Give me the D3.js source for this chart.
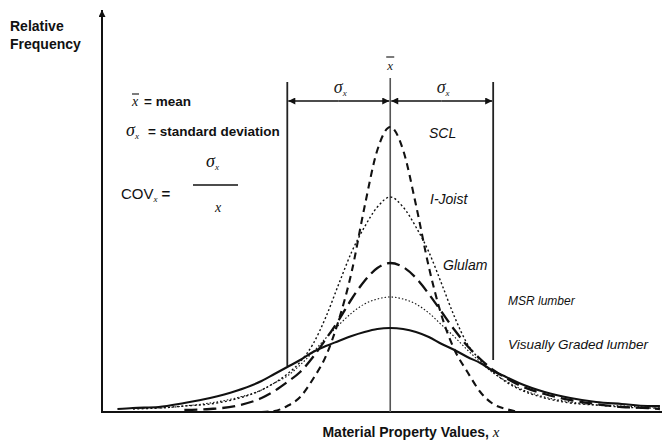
<!DOCTYPE html>
<html><head><meta charset="utf-8">
<script src="https://cdn.jsdelivr.net/npm/d3@7"></script>
<style>html,body{margin:0;padding:0;background:#fff}svg{display:block}</style>
</head><body>
<svg id="c" width="667" height="441"></svg>
<script>
// x in units of standard deviation from the mean; y = relative frequency (arbitrary units)
const xGrid = [-2.65,-2.5,-2.25,-2,-1.75,-1.5,-1.25,-1.125,-1,-0.875,-0.75,-0.625,-0.5,-0.375,-0.25,-0.125,0,0.125,0.25,0.375,0.5,0.625,0.75,0.875,1,1.125,1.25,1.5,1.75,2,2.25,2.5,2.62];
const sclValues     = [null,null,null,null,null,null,0,1,6,15,33,56,92,140,205,262,285,262,207,145,96,62,40,20,8,3,0,null,null,null,null,null,null];
const iJoistValues  = [null,3,4,6,8,13,22,29,38,50,68,95,128,160,185,205,215,205,185,160,128,95,68,52,40,30,23,14,9,7,5,4,4];
const glulamValues  = [null,null,null,2,3,6,14,21,30,40,55,73,92,113,131,144,149,145,134,118,100,82,66,53,42,34,27,18,12,8,5,4,3];
const msrValues     = [null,4,4,6,9,14,22,29,36,47,60,74,87,99,108,113,115,113,108,99,87,75,62,50,39,31,24,15,10,7,6,5,5];
const visualValues  = [3,4,5,9,14,21,31,38,45,52,60,66,71,76,80,83,84,83,80,75,68,62,55,49,41,35,29,20,14,10,8,6,6];
const seriesNames = ["SCL","I-Joist","Glulam","MSR lumber","Visually Graded lumber"];

const svg = d3.select("#c");
const x = d3.scaleLinear().domain([-2.8, 2.64]).range([102, 662]);
const y = d3.scaleLinear().domain([0, 400]).range([412, 12]);

const defs = svg.append("defs");
defs.append("marker").attr("id","ah").attr("viewBox","0 0 10 10").attr("refX",10).attr("refY",5)
  .attr("markerWidth",9).attr("markerHeight",7).attr("markerUnits","userSpaceOnUse").attr("orient","auto")
  .append("path").attr("d","M0,0L10,5L0,10z").attr("fill","#111");
defs.append("marker").attr("id","ahY").attr("viewBox","0 0 10 10").attr("refX",10).attr("refY",5)
  .attr("markerWidth",12).attr("markerHeight",7).attr("markerUnits","userSpaceOnUse").attr("orient","auto")
  .append("path").attr("d","M0,0L10,5L0,10z").attr("fill","#111");

// axes
svg.append("line").attr("x1",x(-2.8)).attr("x2",x(-2.8)).attr("y1",y(0)+1).attr("y2",10)
  .attr("stroke","#111").attr("stroke-width",2).attr("marker-end","url(#ahY)");
svg.append("line").attr("x1",x(-2.8)-1).attr("x2",x(2.64)).attr("y1",y(0)).attr("y2",y(0))
  .attr("stroke","#111").attr("stroke-width",2);

// mean and sigma lines
svg.append("line").attr("x1",x(0)).attr("x2",x(0)).attr("y1",78).attr("y2",y(0))
  .attr("stroke","#555").attr("stroke-width",1.6);
svg.append("line").attr("x1",x(-1)).attr("x2",x(-1)).attr("y1",82).attr("y2",366)
  .attr("stroke","#222").attr("stroke-width",1.8);
svg.append("line").attr("x1",x(1)).attr("x2",x(1)).attr("y1",82).attr("y2",360)
  .attr("stroke","#222").attr("stroke-width",1.8);

// sigma arrows
const ay = 101;
[[-0.5,-1,1],[-0.5,0,-1],[0.5,0,1],[0.5,1,-1]].forEach(([a,b,off])=>{
  svg.append("line").attr("x1",x(a)).attr("x2",x(b)+off).attr("y1",ay).attr("y2",ay)
    .attr("stroke","#111").attr("stroke-width",1.3).attr("marker-end","url(#ah)");
});

// curves
const styles = [
  {dash:"7,5", w:2.1},
  {dash:"2,2.4", w:1.4},
  {dash:"13,6", w:2.3},
  {dash:"1.5,2", w:1.1},
  {dash:null, w:2.1}
];
const allVals = [sclValues, iJoistValues, glulamValues, msrValues, visualValues];
const line = d3.line().defined(d=>d[1]!==null).x(d=>x(d[0])).y(d=>y(d[1])).curve(d3.curveMonotoneX);
allVals.forEach((vals,i)=>{
  const pts = xGrid.map((xv,j)=>[xv, vals[j]]);
  svg.append("path").attr("d", line(pts)).attr("fill","none").attr("stroke","#111")
    .attr("stroke-width",styles[i].w).attr("stroke-dasharray",styles[i].dash)
    .attr("stroke-linejoin","round");
});

// labels
const sans = "'Liberation Sans', Arial, sans-serif";
const serif = "'Liberation Serif', 'Times New Roman', serif";
svg.append("text").attr("x",10).attr("y",31).attr("font-family",sans).attr("font-weight","bold").attr("font-size",14).attr("fill","#111").text("Relative");
svg.append("text").attr("x",10).attr("y",49).attr("font-family",sans).attr("font-weight","bold").attr("font-size",14).attr("fill","#111").text("Frequency");

// x-bar label at top
svg.append("text").attr("x",x(0)).attr("y",70).attr("text-anchor","middle").attr("font-family",serif).attr("font-style","italic").attr("font-size",13).attr("fill","#222").text("x");
svg.append("line").attr("x1",x(0)-4).attr("x2",x(0)+4).attr("y1",57).attr("y2",57).attr("stroke","#222").attr("stroke-width",1.2);
// sigma labels
[-0.5,0.5].forEach(v=>{
  const t = svg.append("text").attr("x",x(v)-5).attr("y",93).attr("font-family",serif).attr("font-style","italic").attr("font-size",18).attr("fill","#222");
  t.append("tspan").text("σ");
  t.append("tspan").attr("font-size",9).attr("dy",3).text("x");
});

// legend definitions
const lg = svg.append("g").attr("font-family",sans).attr("fill","#111");
lg.append("text").attr("x",132).attr("y",106).attr("font-family",serif).attr("font-style","italic").attr("font-size",14).text("x");
lg.append("line").attr("x1",132).attr("x2",139).attr("y1",94).attr("y2",94).attr("stroke","#111").attr("stroke-width",1.1);
lg.append("text").attr("x",144).attr("y",106).attr("font-size",13.5).attr("font-weight","bold").text("= mean");
const s1 = lg.append("text").attr("x",126).attr("y",136).attr("font-size",18);
s1.append("tspan").attr("font-family",serif).attr("font-style","italic").text("σ");
s1.append("tspan").attr("font-family",serif).attr("font-style","italic").attr("font-size",9).attr("dy",3).text("x");
lg.append("text").attr("x",148).attr("y",136).attr("font-size",13.5).attr("font-weight","bold").text("= standard deviation");
const cov = lg.append("text").attr("x",121).attr("y",199).attr("font-size",15);
cov.append("tspan").text("COV");
cov.append("tspan").attr("font-size",9).attr("dy",3).attr("font-family",serif).attr("font-style","italic").text("x");
cov.append("tspan").attr("dy",-3).attr("dx",4).attr("font-weight","bold").text("=");
const num = lg.append("text").attr("x",206).attr("y",167).attr("font-size",18);
num.append("tspan").attr("font-family",serif).attr("font-style","italic").text("σ");
num.append("tspan").attr("font-family",serif).attr("font-style","italic").attr("font-size",9).attr("dy",3).text("x");
lg.append("line").attr("x1",193).attr("x2",238).attr("y1",185).attr("y2",185).attr("stroke","#111").attr("stroke-width",1.3);
lg.append("text").attr("x",215).attr("y",212).attr("font-family",serif).attr("font-style","italic").attr("font-size",14).text("x");

// series labels
const labelPos = [[429,138],[430,204],[443,270],[508,305],[508,349]];
seriesNames.forEach((n,i)=>{
  svg.append("text").attr("x",labelPos[i][0]).attr("y",labelPos[i][1]).attr("font-family",sans)
    .attr("font-style","italic").attr("font-size", i<3?14:(i===3?12:13.5)).attr("fill","#111").text(n);
});

// x axis title
const xt = svg.append("text").attr("x",411).attr("y",437).attr("text-anchor","middle").attr("font-family",sans).attr("font-weight","bold").attr("font-size",14).attr("fill","#111");
xt.append("tspan").text("Material Property Values, ");
xt.append("tspan").attr("font-family",serif).attr("font-style","italic").attr("font-weight","normal").attr("font-size",15).text("x");
</script>
</body></html>
